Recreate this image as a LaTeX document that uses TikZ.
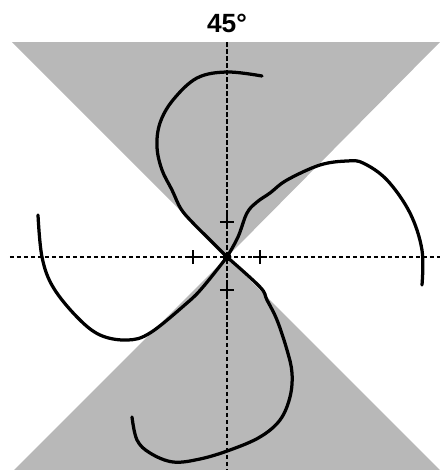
\documentclass[tikz,border=0pt]{standalone}
\usepackage{fontspec}
\setmainfont{Liberation Sans}
\usepackage{tikz}
\usetikzlibrary{positioning}
\usepackage{xcolor}
\definecolor{conegray}{gray}{0.72}

\begin{document}
\begin{tikzpicture}[
    cone/.style={fill=conegray, draw=none},
    axis/.style={line width=0.05cm, dash pattern=on 0.09cm off 0.05cm},
    tickmark/.style={line width=0.05cm},
    curve/.style={line width=0.065cm, line cap=round, line join=round},
    lab/.style={font=\bfseries\fontsize{15}{18}\selectfont, inner sep=0pt}
]
    \useasboundingbox (-4.54,-4.26) rectangle (4.26,5.14);
    \coordinate (o) at (0,0);

    % shaded cones
    \fill[cone] (o) -- (-4.30,4.30) -- (4.26,4.30) -- cycle;
    \fill[cone] (o) -- (4.26,-4.26) -- (-4.26,-4.26) -- cycle;

    % axes
    \draw[axis] (0,4.30) -- (0,-4.26);
    \draw[axis] (-4.34,0) -- (4.26,0);
    \node[lab] (angle) at (0,4.68) {45°};

    % ticks
    \foreach \p in {(0,0.70),(0,-0.66),(-0.68,0),(0.66,0)}
        \draw[tickmark] \p ++(-0.14,0) -- ++(0.28,0) \p ++(0,-0.14) -- ++(0,0.28);

    % four branches
    \draw[curve] plot[smooth, tension=0.6] coordinates {(0.70,3.62) (0,3.70) (-0.60,3.58) (-1.08,3.14) (-1.34,2.68) (-1.40,2.20) (-1.30,1.74) (-1.10,1.34) (-0.92,0.96) (-0.68,0.68) (-0.40,0.40) (0,0)};
    \draw[curve] plot[smooth, tension=0.6] coordinates {(0,0) (0.22,0.40) (0.40,0.88) (0.60,1.10) (0.86,1.28) (1.20,1.54) (1.86,1.84) (2.40,1.92) (2.72,1.88) (3.20,1.54) (3.66,0.88) (3.90,0.14) (3.90,-0.56)};
    \draw[curve] plot[smooth, tension=0.6] coordinates {(-3.78,0.84) (-3.70,0) (-3.48,-0.60) (-3.00,-1.20) (-2.54,-1.56) (-2.00,-1.66) (-1.54,-1.52) (-0.80,-0.92) (-0.48,-0.60) (0,0)};
    \draw[curve] plot[smooth, tension=0.6] coordinates {(0,0) (0.66,-0.60) (0.80,-0.86) (1.00,-1.26) (1.20,-1.86) (1.30,-2.32) (1.26,-2.80) (1.06,-3.26) (0.66,-3.60) (0.06,-3.86) (-0.54,-4.04) (-1.08,-4.10) (-1.54,-3.92) (-1.80,-3.66) (-1.90,-3.20)};

    \fill (o) circle (0.09);
\end{tikzpicture}
\end{document}
